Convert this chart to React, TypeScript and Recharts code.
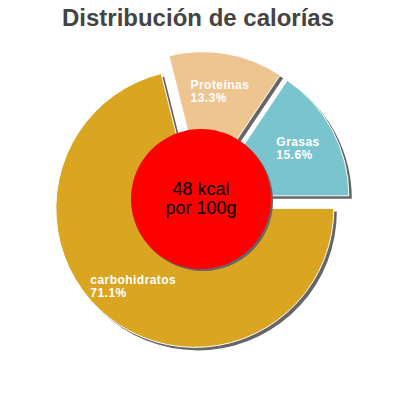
import { Cell, Pie, PieChart } from 'recharts'

// calorie split, in percent
const categories = ['Grasas', 'Proteínas', 'carbohidratos']
const shares = [15.6, 13.3, 71.1]
const colors = ['#7AC5CD', '#EEC591', '#DAA520']

const energy = [48]
const energyLines = ['48 kcal', 'por 100g']

const title = 'Distribución de calorías'

const data = categories.map((name, i) => ({ name, value: shares[i] }))
const centerData = energy.map((value) => ({ name: 'energía', value }))

const FONT = '"Liberation Sans", Arial, sans-serif'
const CX = 201
const CY = 200.5
const RADIUS = 139
const SLICED = 10
const LABEL_R = 100
const SHADOW = 3
const LABEL_SIZE = 12
const TRACKING = 0.45
const RAD = Math.PI / 180

// every slice is pulled out along its middle angle
const total = shares.reduce((a, b) => a + b, 0)
let acc = 0
const offsets = shares.map((v) => {
  const mid = ((acc + v / 2) / total) * 360 * RAD
  acc += v
  return { dx: SLICED * Math.cos(mid), dy: -SLICED * Math.sin(mid) }
})

let ctx: CanvasRenderingContext2D | null = null
function textWidth(s: string) {
  if (!ctx) ctx = document.createElement('canvas').getContext('2d')
  if (!ctx) return s.length * 7
  ctx.font = `bold ${LABEL_SIZE}px ${FONT}`
  return ctx.measureText(s).width + TRACKING * s.length
}

function renderSliceLabel(props: any) {
  const { cx, cy, midAngle, percent } = props
  const name = props.name ?? props.payload?.name
  const r = SLICED + LABEL_R
  const px = cx + r * Math.cos(-midAngle * RAD)
  const py = cy + r * Math.sin(-midAngle * RAD)
  const left = px - textWidth(name) / 2
  return (
    <text
      fill="#fff"
      fontSize={LABEL_SIZE}
      fontWeight="bold"
      fontFamily={FONT}
      letterSpacing={TRACKING}
    >
      <tspan x={left} y={py - 3}>
        {name}
      </tspan>
      <tspan x={left} y={py + 10}>
        {(percent * 100).toFixed(1)}%
      </tspan>
    </text>
  )
}

function renderCenterLabel(props: any) {
  const { cx, cy } = props
  return (
    <text
      fill="#000"
      fontSize={18}
      fontFamily={FONT}
      textAnchor="middle"
    >
      <tspan x={cx} y={cy - 4}>
        {energyLines[0]}
      </tspan>
      <tspan x={cx} y={cy + 14.5}>
        {energyLines[1]}
      </tspan>
    </text>
  )
}

export default function App() {
  return (
    <div
      style={{
        position: 'absolute',
        left: 0,
        top: 0,
        width: 400,
        height: 400,
        background: '#fff',
      }}
    >
      <PieChart
        width={400}
        height={400}
        margin={{ top: 0, right: 0, bottom: 0, left: 0 }}
      >
        {/* shadows */}
        <Pie
          data={data}
          dataKey="value"
          nameKey="name"
          cx={CX + SHADOW}
          cy={CY + SHADOW}
          outerRadius={RADIUS}
          stroke="none"
          label={false}
          labelLine={false}
          isAnimationActive={false}
        >
          {data.map((d, i) => (
            <Cell
              key={d.name}
              fill="#666"
              transform={`translate(${offsets[i].dx},${offsets[i].dy})`}
            />
          ))}
        </Pie>

        <Pie
          data={data}
          dataKey="value"
          nameKey="name"
          cx={CX}
          cy={CY}
          outerRadius={RADIUS}
          stroke="#fff"
          strokeWidth={1}
          label={renderSliceLabel}
          labelLine={false}
          isAnimationActive={false}
        >
          {data.map((d, i) => (
            <Cell
              key={d.name}
              fill={colors[i]}
              transform={`translate(${offsets[i].dx},${offsets[i].dy})`}
            />
          ))}
        </Pie>

        <Pie
          data={centerData}
          dataKey="value"
          cx={CX + 2}
          cy={199 + 2}
          outerRadius={70}
          fill="#666"
          stroke="none"
          label={false}
          labelLine={false}
          isAnimationActive={false}
        />
        <Pie
          data={centerData}
          dataKey="value"
          cx={CX}
          cy={199}
          outerRadius={70}
          fill="#ff0000"
          stroke="none"
          label={renderCenterLabel}
          labelLine={false}
          isAnimationActive={false}
        />
      </PieChart>

      <div
        style={{
          position: 'absolute',
          left: -2,
          top: 6,
          width: 400,
          textAlign: 'center',
          fontFamily: FONT,
          fontSize: 24,
          lineHeight: '24px',
          fontWeight: 'bold',
          color: '#444',
        }}
      >
        {title}
      </div>
    </div>
  )
}
